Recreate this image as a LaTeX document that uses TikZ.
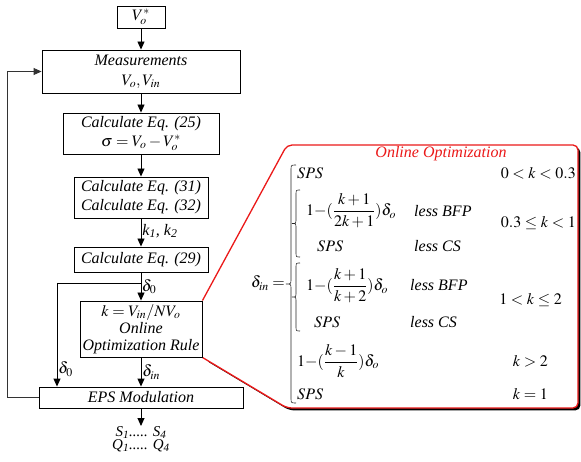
\documentclass[tikz,border=0pt]{standalone}
\usepackage{amsmath}
\usepackage{mathptmx}
\usepackage[no-math]{fontspec}
\setmainfont{Liberation Serif}
\usetikzlibrary{arrows.meta,backgrounds}
\definecolor{calred}{RGB}{235,25,25}
\newcommand{\cbrace}[4]{% #1 tip x, #2 top y, #3 bottom y, #4 half width
  \pgfmathsetmacro\bmid{(#2+#3)/2}
  \draw[brc] (#1+2*#4,#2) .. controls (#1+#4,#2) .. (#1+#4,#2+5)
    -- (#1+#4,\bmid-5) .. controls (#1+#4,\bmid) .. (#1,\bmid)
    .. controls (#1+#4,\bmid) .. (#1+#4,\bmid+5)
    -- (#1+#4,#3-5) .. controls (#1+#4,#3) .. (#1+2*#4,#3);
}
\begin{document}
\begin{tikzpicture}[x=1pt,y=-1pt,
  font=\fontsize{16}{19}\selectfont\itshape,
  box/.style={draw, line width=0.9pt, inner sep=0pt, align=center},
  arr/.style={-{Triangle[length=8pt,width=7pt]}, line width=0.9pt},
  lbl/.style={anchor=west, inner sep=1pt},
  brc/.style={line width=0.6pt, black!85},
  mth/.style={inner sep=0pt},
  sh/.style={shift={(2.4,2.4)}}]
\useasboundingbox (0,0) rectangle (581,462);

% ---------------- flowchart ----------------
\node[box, minimum width=48pt, minimum height=22pt] (vo) at (141,17) {$V_o^*$};
\node[box, minimum width=198pt, minimum height=43pt, font=\fontsize{16}{20}\selectfont\itshape] (meas) at (141,71.5) {Measurements\\$V_o,V_{in}$};
\node[box, minimum width=156pt, minimum height=41pt] (c25) at (141,133.5) {Calculate Eq. (25)\\$\sigma = V_o - V_o^*$};
\node[box, minimum width=134pt, minimum height=41pt] (c31) at (141,197.5) {Calculate Eq. (31)\\Calculate Eq. (32)};
\node[box, minimum width=134pt, minimum height=25pt] (c29) at (141,259.5) {Calculate Eq. (29)};
\node[box, fill=white, minimum width=122pt, minimum height=56pt, font=\fontsize{16}{17}\selectfont\itshape] (onl) at (141,329) {$k = V_{in}/NV_o$\\Online\\Optimization Rule};
\node[box, minimum width=204pt, minimum height=21pt] (eps) at (141,397.5) {EPS Modulation};
\node[inner sep=0pt, anchor=north, align=center, font=\fontsize{15}{13.5}\selectfont\itshape] (out) at (141,426) {S\textsubscript{1}..... S\textsubscript{4}\\Q\textsubscript{1}..... Q\textsubscript{4}};

\draw[arr] (vo) -- (meas);
\draw[arr] (meas) -- (c25);
\draw[arr] (c25) -- (c31);
\draw[arr] (c31) -- node[lbl, pos=0.45] {k\textsubscript{1}, k\textsubscript{2}} (c29);
\draw[arr] (c29) -- node[lbl, pos=0.5, inner sep=0.5pt] {$\delta_0$} (onl);
\draw[arr] (onl) -- node[lbl, pos=0.5] {$\delta_{in}$} (eps);
\draw[arr] (eps) -- (out);

\coordinate (b1) at (141,283);
\coordinate (b2) at (57,283);
\draw[line width=0.9pt] (b1) -- (b2);
\draw[arr] (b2) -- node[lbl, pos=0.83] {$\delta_0$} (b2 |- eps.north);

\coordinate (fb) at (7,397.5);
\draw[arr, draw=black!80] (eps.west) -- (fb) |- (meas.west);

% ---------------- callout ----------------
\coordinate (p1) at (onl.north east);
\coordinate (p2) at (287,145);
\coordinate (p3) at (578,145);
\coordinate (p4) at (578,408);
\coordinate (p5) at (287,408);
\coordinate (p6) at (onl.south east);
\begin{scope}[on background layer]
\fill[black, rounded corners=5pt]
  ([sh]p1) -- ([sh]p2) -- ([sh]p3) -- ([sh]p4) -- ([sh]p5) -- ([sh]p6) -- cycle;
\fill[white, rounded corners=5pt]
  (p1) -- (p2) -- (p3) -- (p4) -- (p5) -- (p6) -- cycle;
\draw[line width=1.3pt, calred, rounded corners=5pt]
  (p1) -- (p2) -- (p3) -- (p4) -- (p5) -- (p6);
\end{scope}

\node[text=calred] (title) at (441,154) {Online Optimization};

% ---------------- formula ----------------
\node[mth, anchor=east] (din) at (285,283) {$\delta_{in} =$};
\cbrace{286}{165}{403}{5}
\cbrace{292}{190}{257}{4}
\cbrace{292}{263}{331}{4}

\node[mth, anchor=west] (r1) at (297,173) {$SPS$};
\node[mth, anchor=east] (c1) at (576,173) {$0 < k < 0.3$};

\node[mth, anchor=west] (r2a) at (306,211) {$1{-}(\dfrac{k+1}{2k+1})\delta_o$};
\node[mth, anchor=west] (l2a) at (414,211) {less BFP};
\node[mth, anchor=west] (r2b) at (317,246) {$SPS$};
\node[mth, anchor=west] (l2b) at (414,246) {less CS};
\node[mth, anchor=east] (c2) at (576,223) {$0.3 \le k < 1$};

\node[mth, anchor=west] (r3a) at (306,286) {$1{-}(\dfrac{k+1}{k+2})\delta_o$};
\node[mth, anchor=west] (l3a) at (410,285) {less BFP};
\node[mth, anchor=west] (r3b) at (314,322) {$SPS$};
\node[mth, anchor=west] (l3b) at (410,322) {less CS};
\node[mth, anchor=east] (c3) at (562,300) {$1 < k \le 2$};

\node[mth, anchor=west] (r4) at (297,361) {$1{-}(\dfrac{k-1}{k})\delta_o$};
\node[mth, anchor=east] (c4) at (548,361) {$k > 2$};

\node[mth, anchor=west] (r5) at (297,394) {$SPS$};
\node[mth, anchor=east] (c5) at (548,394) {$k = 1$};
\end{tikzpicture}
\end{document}
